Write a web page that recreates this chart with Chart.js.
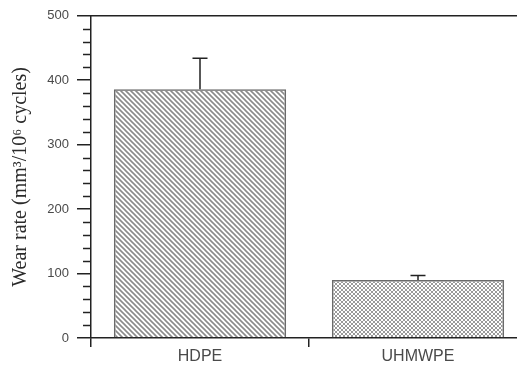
<!DOCTYPE html>
<html>
<head>
<meta charset="utf-8">
<script src="https://cdn.jsdelivr.net/npm/chart.js@4/dist/chart.umd.min.js"></script>
<style>
  html, body { margin: 0; padding: 0; overflow: hidden; background: #fff; }
  #wrap { position: absolute; left: 0; top: 0; width: 530px; height: 367px; }
</style>
</head>
<body>
<div id="wrap"><canvas id="chart"></canvas></div>
<script>
const categories = ['HDPE', 'UHMWPE'];
const wearRate = [386, 90];
const wearError = [48, 7];
const yTicks = [0, 100, 200, 300, 400, 500];

// fill patterns for the two bars
function stripePattern() {
  const c = document.createElement('canvas');
  c.width = 5; c.height = 5;
  const g = c.getContext('2d');
  g.strokeStyle = '#8a8a8a';
  g.lineWidth = 1.6;
  g.beginPath();
  g.moveTo(-1, -1); g.lineTo(6, 6);
  g.moveTo(-1, 4); g.lineTo(1, 6);
  g.moveTo(4, -1); g.lineTo(6, 1);
  g.stroke();
  return g.createPattern(c, 'repeat');
}

function crossPattern() {
  const c = document.createElement('canvas');
  c.width = 4; c.height = 4;
  const g = c.getContext('2d');
  g.strokeStyle = '#9a9a9a';
  g.lineWidth = 1;
  g.beginPath();
  g.moveTo(0, 0); g.lineTo(4, 4);
  g.moveTo(4, 0); g.lineTo(0, 4);
  g.stroke();
  return g.createPattern(c, 'repeat');
}

const errorBars = {
  id: 'errorBars',
  afterDatasetsDraw(chart) {
    const { ctx } = chart;
    const meta = chart.getDatasetMeta(0);
    const y = chart.scales.y;
    ctx.save();
    ctx.strokeStyle = '#222';
    ctx.lineWidth = 1.5;
    meta.data.forEach((bar, i) => {
      const top = y.getPixelForValue(wearRate[i] + wearError[i]);
      const base = y.getPixelForValue(wearRate[i]);
      ctx.beginPath();
      ctx.moveTo(bar.x, base);
      ctx.lineTo(bar.x, top);
      ctx.moveTo(bar.x - 7.5, top);
      ctx.lineTo(bar.x + 7.5, top);
      ctx.stroke();
    });
    ctx.restore();
  }
};

// shorter minor ticks every 20 units on the y axis
const minorTicks = {
  id: 'minorTicks',
  afterDraw(chart) {
    const { ctx } = chart;
    const y = chart.scales.y;
    ctx.save();
    ctx.strokeStyle = '#222';
    ctx.lineWidth = 1.5;
    for (let v = y.min; v <= y.max; v += 20) {
      if (v % 100 === 0) continue;
      const py = Math.round(y.getPixelForValue(v)) + 0.5;
      ctx.beginPath();
      ctx.moveTo(y.right - 8, py);
      ctx.lineTo(y.right, py);
      ctx.stroke();
    }
    ctx.restore();
  }
};

new Chart(document.getElementById('chart'), {
  type: 'bar',
  data: {
    labels: categories,
    datasets: [{
      data: wearRate,
      backgroundColor: [stripePattern(), crossPattern()],
      borderColor: '#6a6a6a',
      borderWidth: 1.5,
      categoryPercentage: 1,
      barPercentage: 0.79
    }]
  },
  options: {
    responsive: true,
    maintainAspectRatio: false,
    animation: false,
    layout: { padding: { top: 15, right: 3, left: 0, bottom: 0 } },
    plugins: { legend: { display: false }, tooltip: { enabled: false } },
    scales: {
      x: {
        position: 'bottom',
        grid: { display: true, drawOnChartArea: false, tickLength: 9, color: '#222', lineWidth: 1.5 },
        border: { color: '#222', width: 1.5 },
        ticks: { color: '#4a4a4a', padding: 0, font: { family: 'Liberation Sans', size: 16 } },
        afterFit(scale) { scale.height = 29; }
      },
      x2: {
        position: 'top',
        grid: { display: false },
        border: { display: true, color: '#222', width: 1.5 },
        ticks: { display: false },
        afterFit(scale) { scale.height = 0; }
      },
      y: {
        min: 0,
        max: 500,
        afterBuildTicks(scale) { scale.ticks = yTicks.map(v => ({ value: v })); },
        grid: { drawOnChartArea: false, tickLength: 14, color: '#222', lineWidth: 1.5 },
        border: { color: '#222', width: 1.5 },
        ticks: { color: '#4a4a4a', padding: 8, font: { family: 'Liberation Sans', size: 13 } },
        title: {
          display: true,
          text: 'Wear rate (mm\u00b3/10\u2076 cycles)',
          color: '#2a2a2a',
          padding: { top: 9, bottom: 0 },
          font: { family: 'Liberation Serif', size: 20 }
        },
        afterFit(scale) { scale.width = 91; }
      }
    }
  },
  plugins: [errorBars, minorTicks]
});
</script>
</body>
</html>
